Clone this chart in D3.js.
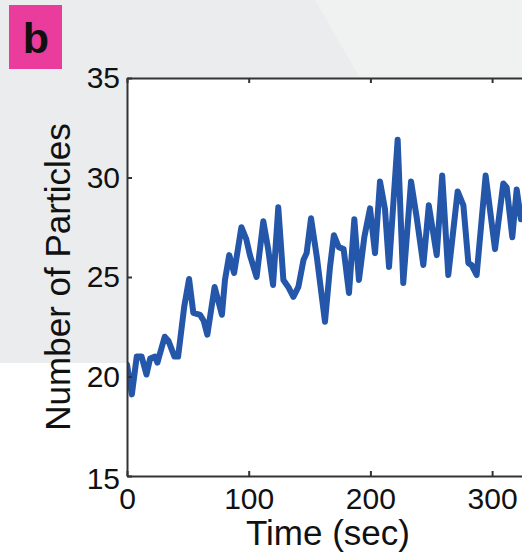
<!DOCTYPE html>
<html><head><meta charset="utf-8">
<script src="https://cdn.jsdelivr.net/npm/d3@7"></script>
<style>html,body{margin:0;padding:0;background:#fff;overflow:hidden}</style>
</head><body>
<svg id="c" width="522" height="558"></svg>
<script>
const timeSec = [0, 4, 8, 12, 16, 19, 23, 25, 31, 34, 39, 42, 47, 51, 54.5, 60, 63, 66, 69, 72, 78, 80.5, 84, 88, 94, 98, 101, 106.5, 112, 116, 120, 124.3, 128.5, 132.5, 136.7, 140.8, 145, 147.6, 151.2, 156, 162.7, 166.8, 170, 174, 178, 182.4, 186.8, 190.6, 195, 199.7, 203.8, 207.9, 212, 215.3, 222.4, 227, 233.4, 238, 243.5, 248, 254.5, 259, 264, 271.7, 276.4, 280.5, 283.2, 287.3, 294.7, 302.4, 309.2, 312, 316.6, 320.2, 323.7, 328, 333];
const particles = [20.6, 19.1, 21.0, 21.0, 20.1, 20.9, 21.0, 20.7, 22.0, 21.8, 21.0, 21.0, 23.5, 24.9, 23.2, 23.1, 22.8, 22.1, 23.3, 24.5, 23.1, 24.85, 26.1, 25.2, 27.5, 26.9, 26.1, 25.0, 27.8, 26.4, 24.6, 28.5, 24.85, 24.5, 24.0, 24.5, 25.85, 26.2, 27.95, 26.0, 22.75, 25.5, 27.1, 26.5, 26.4, 24.2, 27.9, 24.85, 27.0, 28.45, 26.2, 29.8, 28.4, 25.5, 31.9, 24.7, 29.8, 28.0, 25.6, 28.6, 26.1, 30.1, 25.1, 29.3, 28.6, 25.7, 25.6, 25.1, 30.1, 26.4, 29.7, 29.5, 27.0, 29.4, 27.9, 28.5, 27.5];
const xTicks = [0, 100, 200, 300];
const yTicks = [15, 20, 25, 30, 35];
const panelLabel = "b";
const xTitle = "Time (sec)";
const yTitle = "Number of Particles";

const svg = d3.select("#c");
const L = 127, T = 78, B = 476;
const x = d3.scaleLinear().domain([0, 400]).range([L, L + 486.8]);
const y = d3.scaleLinear().domain([15, 35]).range([B, T]);

// background
svg.append("rect").attr("x",0).attr("y",0).attr("width",522).attr("height",558).attr("fill","#ffffff");
svg.append("rect").attr("x",0).attr("y",0).attr("width",522).attr("height",T).attr("fill","#ebecee");
svg.append("rect").attr("x",0).attr("y",0).attr("width",L).attr("height",363).attr("fill","#ebecee");
svg.append("polygon").attr("points","315,0 522,0 522,78 360,78").attr("fill","#f0f1f1");

// panel label
svg.append("rect").attr("x",9).attr("y",5).attr("width",53).attr("height",64).attr("fill","#ea3c9c");
svg.append("text").attr("x",36).attr("y",53).attr("text-anchor","middle")
  .attr("font-family","Liberation Sans, Arial, sans-serif").attr("font-weight","bold")
  .attr("font-size",43).attr("fill","#111").text(panelLabel);

// plot area
svg.append("rect").attr("x",L).attr("y",T).attr("width",522-L).attr("height",B-T).attr("fill","#ffffff");

svg.append("clipPath").attr("id","clip").append("rect").attr("x",L).attr("y",T).attr("width",600).attr("height",B-T);

const line = d3.line().x((d,i)=>x(timeSec[i])).y(d=>y(d)).curve(d3.curveLinear);
svg.append("path").datum(particles).attr("clip-path","url(#clip)")
  .attr("d", line).attr("fill","none").attr("stroke","#2456aa")
  .attr("stroke-width",6).attr("stroke-linejoin","round").attr("stroke-linecap","round");

const font = "Liberation Sans, Arial, sans-serif";
const gx = svg.append("g").attr("transform",`translate(0,${B})`)
  .call(d3.axisBottom(x).tickValues(xTicks).tickSizeInner(-5).tickSizeOuter(0).tickPadding(12));
const gt = svg.append("g").attr("transform",`translate(0,${T})`)
  .call(d3.axisTop(x).tickValues(xTicks).tickSizeInner(-5).tickSizeOuter(0).tickFormat(""));
const gy = svg.append("g").attr("transform",`translate(${L},0)`)
  .call(d3.axisLeft(y).tickValues(yTicks).tickSizeInner(-5).tickSizeOuter(0).tickPadding(7));
[gx,gt,gy].forEach(g=>{
  g.select(".domain").attr("stroke","#333").attr("stroke-width",2);
  g.selectAll(".tick line").attr("stroke","#333").attr("stroke-width",2);
  g.selectAll("text").attr("font-family",font).attr("font-size",30).attr("fill","#111");
});
gy.selectAll(".tick").filter(d=>d===15).select("text").attr("dy","0.4em");

svg.append("text").attr("x",328).attr("y",545).attr("text-anchor","middle")
  .attr("font-family",font).attr("font-size",35).attr("fill","#111").text(xTitle);
svg.append("text").attr("transform","translate(70,277) rotate(-90)").attr("text-anchor","middle")
  .attr("font-family",font).attr("font-size",35).attr("fill","#111").text(yTitle);
</script>
</body></html>
